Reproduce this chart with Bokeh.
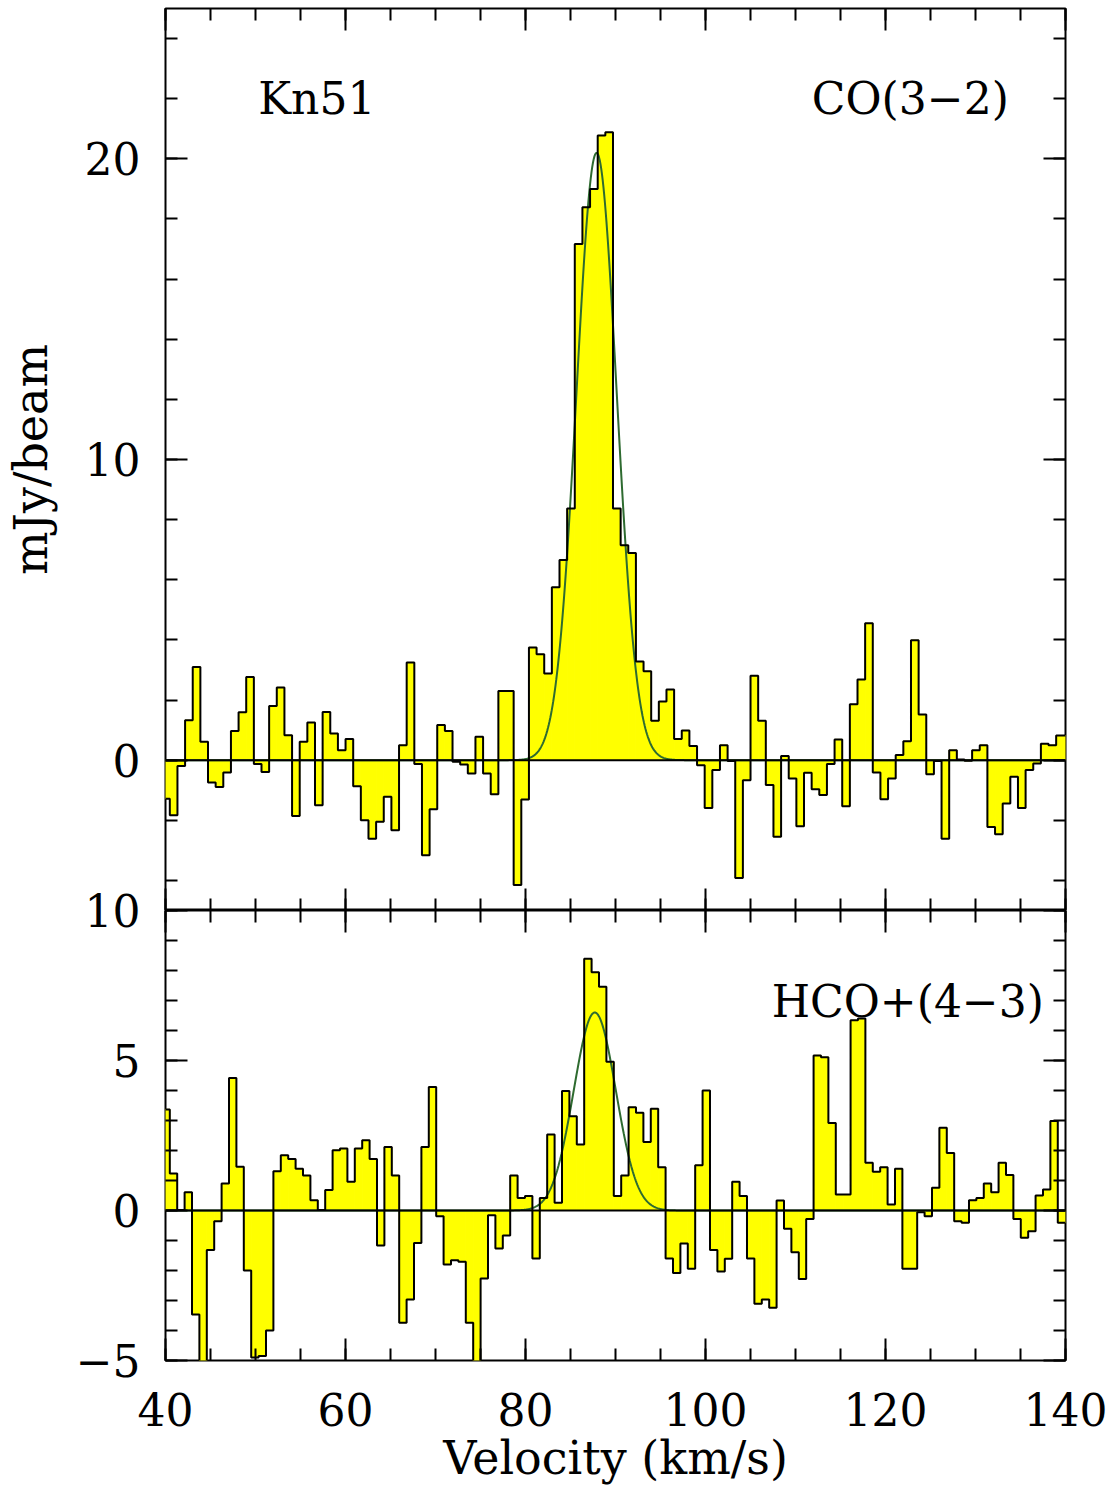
import numpy as np
from bokeh.plotting import figure
from bokeh.models import LinearAxis, FixedTicker, Span, Label, Range1d
from bokeh.layouts import column
from bokeh.embed import file_html
from bokeh.resources import INLINE

FONT = "DejaVu Serif"

# ---------------- data ----------------
# CO(3-2) spectrum: channel grid and flux (mJy/beam)
co_v_start = 39.63
co_dv = 0.849
co_flux = [
    -1.28, -1.83, -0.19, 1.33, 3.10, 0.61, -0.74, -0.89, -0.41, 0.97,
    1.59, 2.77, -0.13, -0.39, 1.80, 2.42, 0.83, -1.86, 0.61, 1.25,
    -1.50, 1.60, 0.89, 0.33, 0.70, -0.87, -2.00, -2.61, -2.05, -1.22,
    -2.33, 0.50, 3.25, -0.13, -3.16, -1.63, 1.17, 0.97, -0.05, -0.14,
    -0.44, 0.78, -0.44, -1.13, 2.30, 2.30, -4.15, -1.31, 3.75, 3.52,
    2.88, 5.75, 6.66, 8.37, 17.17, 18.39, 19.00, 20.78, 20.88, 8.37,
    7.15, 6.89, 3.28, 2.96, 1.31, 1.95, 2.35, 0.70, 0.99, 0.47,
    -0.17, -1.59, -0.33, 0.50, -0.03, -3.92, -0.67, 2.81, 1.31, -0.83,
    -2.55, 0.14, -0.61, -2.20, -0.42, -0.97, -1.16, -0.13, 0.69, -1.53,
    1.86, 2.68, 4.55, -0.41, -1.30, -0.61, 0.17, 0.63, 3.99, 1.52,
    -0.47, -0.03, -2.61, 0.33, 0.02, -0.02, 0.33, 0.50, -2.22, -2.46,
    -1.44, -0.55, -1.59, -0.33, -0.11, 0.55, 0.50, 0.82, 0.82,
]
co_fit_amp, co_fit_center, co_fit_sigma = 20.2, 87.9, 2.23

# HCO+(4-3) spectrum
hco_v_start = 39.656
hco_dv = 0.8222
hco_flux = [
    3.37, 1.23, 0.02, 0.61, -3.47, -5.60, -1.32, -0.36, 0.90, 4.42,
    1.46, -2.00, -4.90, -4.85, -4.00, 1.31, 1.84, 1.72, 1.39, 1.17,
    0.34, 0.02, 0.68, 2.01, 2.07, 0.96, 2.07, 2.34, 1.72, -1.17,
    2.12, 1.17, -3.74, -2.97, -1.08, 2.12, 4.12, -0.19, -1.80, -1.66,
    -1.71, -3.74, -5.30, -2.27, -0.16, -1.27, -0.83, 1.17, 0.42, 0.48,
    -1.60, 0.42, 2.53, 0.26, 3.98, 3.14, 2.20, 8.39, 7.94, 7.46,
    4.96, 0.48, 1.17, 3.44, 3.26, 2.28, 3.39, 1.44, -1.60, -2.08,
    -1.10, -1.94, 1.51, 4.00, -1.32, -2.03, -1.61, 0.96, 0.48, -1.60,
    -3.11, -2.97, -3.24, 0.33, -0.61, -1.39, -2.28, -0.28, 5.17, 5.11,
    2.92, 0.53, 0.53, 6.34, 6.40, 1.59, 1.29, 1.44, 0.20, 1.39,
    -1.94, -1.94, -0.06, -0.19, 0.76, 2.76, 1.92, -0.36, -0.41, 0.34,
    0.42, 0.90, 0.61, 1.59, 1.18, -0.28, -0.91, -0.69, 0.50, 0.70,
    2.98, -0.41,
]
hco_fit_amp, hco_fit_center, hco_fit_sigma = 6.6, 87.7, 2.34

x_major = [40, 60, 80, 100, 120, 140]
x_minor = list(range(40, 141, 5))
co_y_major = [0, 10, 20]
co_y_minor = list(range(-4, 25, 2))
hco_y_major = [-5, 0, 5, 10]
hco_y_minor = list(range(-5, 11))

TICK_FS = "44px"
LABEL_FS = "46px"
OVERLAP = 34   # bottom canvas reaches up over the top one, so the shared "10" fits


def style_axis(ax, major, minor, show_labels, overrides=None):
    ax.ticker = FixedTicker(ticks=major, minor_ticks=minor)
    ax.axis_line_color = None
    ax.major_tick_in = 22
    ax.major_tick_out = 0
    ax.minor_tick_in = 12
    ax.minor_tick_out = 0
    ax.major_tick_line_width = 2
    ax.minor_tick_line_width = 2
    ax.major_tick_line_color = "black"
    ax.minor_tick_line_color = "black"
    if show_labels:
        ax.major_label_text_font = FONT
        ax.major_label_text_font_size = TICK_FS
        ax.major_label_text_color = "black"
        if overrides:
            ax.major_label_overrides = overrides
    else:
        ax.major_label_text_font_size = "0px"
        ax.major_label_text_alpha = 0
        ax.major_label_standoff = 0


def make_panel(v_start, dv, flux, amp, cen, sig, y_lo, y_hi, frame_h, border_top, border_bottom):
    n = len(flux)
    edges = v_start + dv * np.arange(n + 1)
    p = figure(frame_width=900, frame_height=frame_h,
               x_range=Range1d(40, 140), y_range=Range1d(y_lo, y_hi),
               x_axis_location=None, y_axis_location=None,
               output_backend="svg", toolbar_location=None,
               min_border_left=165, min_border_right=42,
               min_border_top=border_top, min_border_bottom=border_bottom,
               background_fill_color="white", border_fill_color=None)
    p.grid.grid_line_color = None
    p.outline_line_color = "black"
    p.outline_line_width = 2
    p.quad(left=edges[:-1], right=edges[1:], bottom=0, top=flux,
           fill_color="#ffff00", line_color="#ffff00", line_width=1)
    vv = np.linspace(40, 140, 1201)
    p.line(vv, amp * np.exp(-0.5 * ((vv - cen) / sig) ** 2),
           line_color="#2e6b30", line_width=2)
    p.step(x=edges, y=list(flux) + [flux[-1]], mode="after",
           line_color="black", line_width=2)
    p.add_layout(Span(location=0, dimension="width", line_color="black", line_width=2))
    return p


# ---------------- top panel: CO(3-2) ----------------
p1 = make_panel(co_v_start, co_dv, co_flux, co_fit_amp, co_fit_center, co_fit_sigma,
                -5, 25, 902, 8, 0)
ax = LinearAxis()
style_axis(ax, co_y_major, co_y_minor, True)
ax.major_label_standoff = 25
ax.axis_label = "mJy/beam"
ax.axis_label_text_font = FONT
ax.axis_label_text_font_size = LABEL_FS
ax.axis_label_text_font_style = "normal"
ax.axis_label_text_color = "black"
ax.axis_label_standoff = 24
p1.add_layout(ax, "left")
ax = LinearAxis(); style_axis(ax, co_y_major, co_y_minor, False); p1.add_layout(ax, "right")
ax = LinearAxis(); style_axis(ax, x_major, x_minor, False); p1.add_layout(ax, "above")
ax = LinearAxis(); style_axis(ax, x_major, x_minor, False); p1.add_layout(ax, "below")
p1.add_layout(Label(x=50.3, y=22.0, text="Kn51", text_font=FONT, text_font_size="44px",
                    text_color="black", text_align="left", text_baseline="alphabetic"))
p1.add_layout(Label(x=133.7, y=22.0, text="CO(3\u22122)", text_font=FONT, text_font_size="44px",
                    text_color="black", text_align="right", text_baseline="alphabetic"))

# ---------------- bottom panel: HCO+(4-3) ----------------
p2 = make_panel(hco_v_start, hco_dv, hco_flux, hco_fit_amp, hco_fit_center, hco_fit_sigma,
                -5, 10, 450, OVERLAP, 0)
p2.margin = (-OVERLAP, 0, 0, 0)
ax = LinearAxis()
style_axis(ax, hco_y_major, hco_y_minor, True, {-5: "\u22125"})
ax.major_label_standoff = 25
p2.add_layout(ax, "left")
ax = LinearAxis(); style_axis(ax, hco_y_major, hco_y_minor, False); p2.add_layout(ax, "right")
ax = LinearAxis(); style_axis(ax, x_major, x_minor, False); p2.add_layout(ax, "above")
ax = LinearAxis()
style_axis(ax, x_major, x_minor, True)
ax.major_label_standoff = 32
ax.axis_label = "Velocity (km/s)"
ax.axis_label_text_font = FONT
ax.axis_label_text_font_size = LABEL_FS
ax.axis_label_text_font_style = "normal"
ax.axis_label_text_color = "black"
ax.axis_label_standoff = 2
p2.add_layout(ax, "below")
p2.add_layout(Label(x=137.6, y=6.97, text="HCO+(4\u22123)", text_font=FONT, text_font_size="44px",
                    text_color="black", text_align="right", text_baseline="alphabetic"))

layout = column(p1, p2, spacing=0)
open("out.html", "w").write(file_html(layout, INLINE))
